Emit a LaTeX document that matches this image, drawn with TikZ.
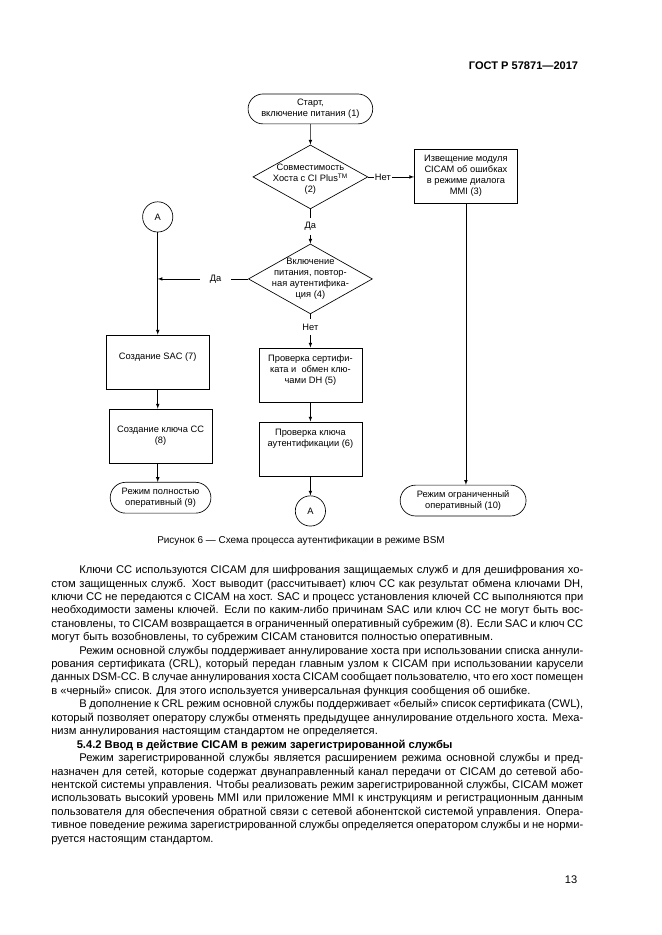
\documentclass[tikz,border=0pt]{standalone}
\usepackage{fontspec}
\setmainfont{Liberation Sans}
\usepackage{tikz}
\usetikzlibrary{positioning}
\usetikzlibrary{shapes.geometric,shapes.misc}

\newcommand{\diagfont}{\fontsize{8.4}{10}\selectfont}
\newcommand{\fullline}[1]{\hbox to 16.9cm{#1}}
\newcommand{\indline}[1]{\hbox to 16.01cm{#1}}

\begin{document}
\begin{tikzpicture}[-latex, line width = 0.5pt,
                    term/.style     = {rounded rectangle,
                                       draw,
                                       line width = 0.6pt,
                                       align = center,
                                       inner sep = 1pt,
                                       font = \diagfont},
                    proc/.style     = {rectangle,
                                       draw,
                                       line width = 0.6pt,
                                       align = center,
                                       inner sep = 1pt,
                                       minimum width = 3.27cm,
                                       minimum height = 1.72cm,
                                       font = \diagfont},
                    decision/.style = {diamond,
                                       draw,
                                       line width = 0.6pt,
                                       inner sep = 0pt},
                    dtext/.style    = {align = center,
                                       font = \diagfont},
                    conn/.style     = {circle,
                                       draw,
                                       line width = 0.6pt,
                                       minimum size = 0.96cm,
                                       inner sep = 0pt,
                                       font = \diagfont},
                    answer/.style   = {fill = white,
                                       inner sep = 1pt,
                                       font = \diagfont},
                    bodyline/.style = {anchor = west,
                                       inner sep = 0pt,
                                       font = \fontsize{10.1}{12}\selectfont,
                                       text height = 1.6ex,
                                       text depth = .4ex}]

\useasboundingbox (0,0) rectangle (21,-29.7);

\node[anchor = east, font = \bfseries] (gost) at (18.49,-2.10) {ГОСТ Р 57871—2017};

% flowchart
\node[term, minimum width = 4.03cm, minimum height = 0.95cm] (start) at (9.86,-3.46)
     {Старт,\\включение питания (1)};
\node[decision, minimum width = 3.65cm, minimum height = 2.03cm,
      label = {[dtext, yshift = -0.08cm]center:{Совместимость\\Хоста с CI Plus\textsuperscript{TM}\\(2)}}]
     (compat) at (9.86,-5.62) {};
\node[proc] (mmi) at (14.80,-5.59) {Извещение модуля\\CICAM об ошибках\\в режиме диалога\\MMI (3)};

\node[conn] (a1) at (5.01,-6.89) {A};
\node[decision, minimum width = 3.94cm, minimum height = 2.22cm,
      label = {[dtext]center:{Включение\\питания, повтор-\\ная аутентифика-\\ция (4)}}]
     (reauth) at (9.86,-8.86) {};

\node[proc] (sac) at (5.01,-11.50) {Создание SAC (7)\\~};
\node[proc] (cert) at (9.86,-11.91) {Проверка сертифи-\\ката и~ обмен клю-\\чами DH (5)\\~};
\node[proc] (cc) at (5.10,-13.85) {Создание ключа CC\\(8)};
\node[proc] (auth) at (9.86,-14.26) {Проверка ключа\\аутентификации (6)\\~\\~};

\node[term, minimum width = 3.27cm, minimum height = 0.98cm] (full) at (5.10,-15.81)
     {Режим полностью\\оперативный (9)};
\node[conn] (a2) at (9.86,-16.23) {A};
\node[term, minimum width = 4.07cm, minimum height = 0.98cm] (limited) at (14.71,-15.90)
     {Режим ограниченный\\оперативный (10)};

\coordinate (join) at (a1 |- reauth);

\draw (start) -- (compat);
\draw (compat.east) -- node[answer, pos = 0.32] {Нет} (compat.east -| mmi.west);
\draw (compat) -- node[answer, inner ysep = 4pt] {Да} (reauth);
\draw (reauth.west) -- node[answer, pos = 0.36, inner xsep = 9pt] {Да} (join);
\draw (a1) -- (sac);
\draw (reauth) -- node[answer, pos = 0.38, inner ysep = 4pt] {Нет} (cert);
\draw (sac) -- (sac |- cc.north);
\draw (sac |- cc.south) -- (sac |- full.north);
\draw (cert) -- (auth);
\draw (auth) -- (a2);
\draw (mmi) -- (mmi |- limited.north);

\node[font = \fontsize{9}{11}\selectfont] (caption) at (9.56,-17.19)
     {Рисунок 6 — Схема процесса аутентификации в режиме BSM};

% text of the page
\node[bodyline] (l1) at (2.51,-18.11) {\indline{Ключи CC используются CICAM для шифрования защищаемых служб и для дешифрования хо-}};
\node[bodyline] (l2) at (1.62,-18.54) {\fullline{стом защищенных служб. Хост выводит (рассчитывает) ключ CC как результат обмена ключами DH,}};
\node[bodyline] (l3) at (1.62,-18.96) {\fullline{ключи CC не передаются с CICAM на хост. SAC и процесс установления ключей CC выполняются при}};
\node[bodyline] (l4) at (1.62,-19.39) {\fullline{необходимости замены ключей. Если по каким-либо причинам SAC или ключ CC не могут быть вос-}};
\node[bodyline] (l5) at (1.62,-19.82) {\fullline{становлены, то CICAM возвращается в ограниченный оперативный субрежим (8). Если SAC и ключ CC}};
\node[bodyline] (l6) at (1.62,-20.24) {могут быть возобновлены, то субрежим CICAM становится полностью оперативным.};
\node[bodyline] (l7) at (2.51,-20.67) {\indline{Режим основной службы поддерживает аннулирование хоста при использовании списка аннули-}};
\node[bodyline] (l8) at (1.62,-21.10) {\fullline{рования сертификата (CRL), который передан главным узлом к CICAM при использовании карусели}};
\node[bodyline] (l9) at (1.62,-21.52) {\fullline{данных DSM-CC. В случае аннулирования хоста CICAM сообщает пользователю, что его хост помещен}};
\node[bodyline] (l10) at (1.62,-21.95) {в «черный» список. Для этого используется универсальная функция сообщения об ошибке.};
\node[bodyline] (l11) at (2.51,-22.37) {\indline{В дополнение к CRL режим основной службы поддерживает «белый» список сертификата (CWL),}};
\node[bodyline] (l12) at (1.62,-22.80) {\fullline{который позволяет оператору службы отменять предыдущее аннулирование отдельного хоста. Меха-}};
\node[bodyline] (l13) at (1.62,-23.23) {низм аннулирования настоящим стандартом не определяется.};
\node[bodyline, font = \fontsize{10.1}{12}\selectfont\bfseries] (l14) at (2.43,-23.65) {5.4.2 Ввод в действие CICAM в режим зарегистрированной службы};
\node[bodyline] (l15) at (2.51,-24.08) {\indline{Режим зарегистрированной службы является расширением режима основной службы и пред-}};
\node[bodyline] (l16) at (1.62,-24.51) {\fullline{назначен для сетей, которые содержат двунаправленный канал передачи от CICAM до сетевой або-}};
\node[bodyline] (l17) at (1.62,-24.93) {\fullline{нентской системы управления. Чтобы реализовать режим зарегистрированной службы, CICAM может}};
\node[bodyline] (l18) at (1.62,-25.36) {\fullline{использовать высокий уровень MMI или приложение MMI к инструкциям и регистрационным данным}};
\node[bodyline] (l19) at (1.62,-25.79) {\fullline{пользователя для обеспечения обратной связи с сетевой абонентской системой управления. Опера-}};
\node[bodyline] (l20) at (1.62,-26.21) {\fullline{тивное поведение режима зарегистрированной службы определяется оператором службы и не норми-}};
\node[bodyline] (l21) at (1.62,-26.64) {руется настоящим стандартом.};

\node[anchor = east] (page) at (18.46,-27.93) {13};

\end{tikzpicture}
\end{document}
